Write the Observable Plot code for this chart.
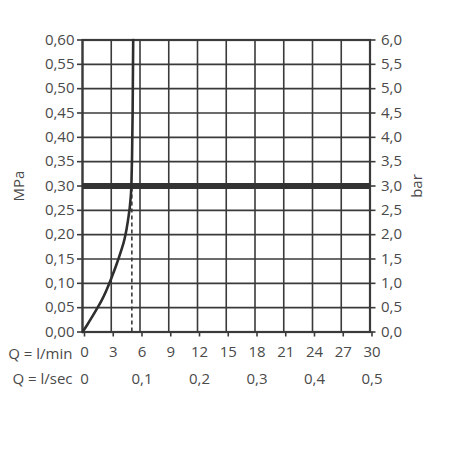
<!DOCTYPE html>
<html><head><meta charset="utf-8">
<script src="https://cdn.jsdelivr.net/npm/d3@7"></script>
<script src="https://cdn.jsdelivr.net/npm/@observablehq/plot@0.6"></script>
<style>body{margin:0;background:#fff}</style>
</head><body><div id="chart"></div>
<script>
// Flow curve (l/min vs MPa)
const flowLmin    = [0, 0.5, 1, 1.57, 2, 2.5, 3, 3.5, 4, 4.4, 4.75, 5.0, 5.1, 5.17, 5.23, 5.29];
const pressureMPa = [0, 0.015, 0.031, 0.05, 0.065, 0.086, 0.11, 0.136, 0.165, 0.192, 0.23, 0.27, 0.30, 0.36, 0.45, 0.60];
const xTicks = [0, 3, 6, 9, 12, 15, 18, 21, 24, 27, 30];
const yTicks = [0, 0.05, 0.10, 0.15, 0.20, 0.25, 0.30, 0.35, 0.40, 0.45, 0.50, 0.55, 0.60];
const lsecTicks = [0, 0.1, 0.2, 0.3, 0.4, 0.5];
const operatingPressure = [0.30];
const ratedFlow = [5.15];
const rowLabels = ["Q = l/min", "Q = l/sec"];

const curve = flowLmin.map((q, i) => ({q, p: pressureMPa[i]}));
const ink = "#3a3a3a";
const txt = "#4a4a4a";
const comma = (v, n) => v.toFixed(n).replace(".", ",");

const chart = Plot.plot({
  width: 450,
  height: 450,
  marginLeft: 82,
  marginRight: 80.5,
  marginTop: 39.5,
  marginBottom: 118.5,
  style: {fontFamily: "'Open Sans', Lato, sans-serif", fontSize: "15px", color: txt, background: "#fff"},
  x: {domain: [0, 30]},
  y: {domain: [0, 0.6]},
  marks: [
    Plot.ruleX(xTicks, {stroke: ink, strokeWidth: 1.6}),
    Plot.ruleY(yTicks, {stroke: ink, strokeWidth: 1.6}),
    Plot.frame({stroke: ink, strokeWidth: 2.2}),
    Plot.ruleY(operatingPressure, {stroke: "#333", strokeWidth: 6}),
    Plot.ruleX(ratedFlow, {y1: 0, y2: operatingPressure[0], stroke: ink, strokeWidth: 1.6, strokeDasharray: "4,3"}),
    Plot.line(curve, {x: "q", y: "p", stroke: "#2e2e2e", strokeWidth: 2.6, curve: "monotone-x"}),
    Plot.axisY({anchor: "left", ticks: yTicks, tickSize: 5, tickPadding: 3, tickFormat: d => comma(d, 2),
      stroke: ink, strokeWidth: 1.6, label: "MPa", labelAnchor: "center", labelArrow: "none", labelOffset: 69, fill: txt}),
    Plot.axisY({anchor: "right", ticks: yTicks, tickSize: 5, tickPadding: 6, tickFormat: d => comma(d * 10, 1),
      stroke: ink, strokeWidth: 1.6, label: "bar", labelAnchor: "center", labelArrow: "none", labelOffset: 52, fill: txt}),
    Plot.axisX({anchor: "bottom", ticks: xTicks, tickSize: 5, tickPadding: 9, tickFormat: d => String(d),
      stroke: ink, strokeWidth: 1.6, label: null, dx: 2, fill: txt}),
    Plot.text(lsecTicks, {x: d => d * 60, y: () => 0, dy: 47.5, dx: 2, text: d => comma(d, d === 0 ? 0 : 1), fill: txt, lineAnchor: "middle"}),
    Plot.text([rowLabels[0]], {x: () => 0, y: () => 0, dy: 22.5, dx: -10, textAnchor: "end", lineAnchor: "middle", fill: txt}),
    Plot.text([rowLabels[1]], {x: () => 0, y: () => 0, dy: 47.5, dx: -10, textAnchor: "end", lineAnchor: "middle", fill: txt})
  ]
});
document.getElementById("chart").appendChild(chart);
</script>
</body></html>
